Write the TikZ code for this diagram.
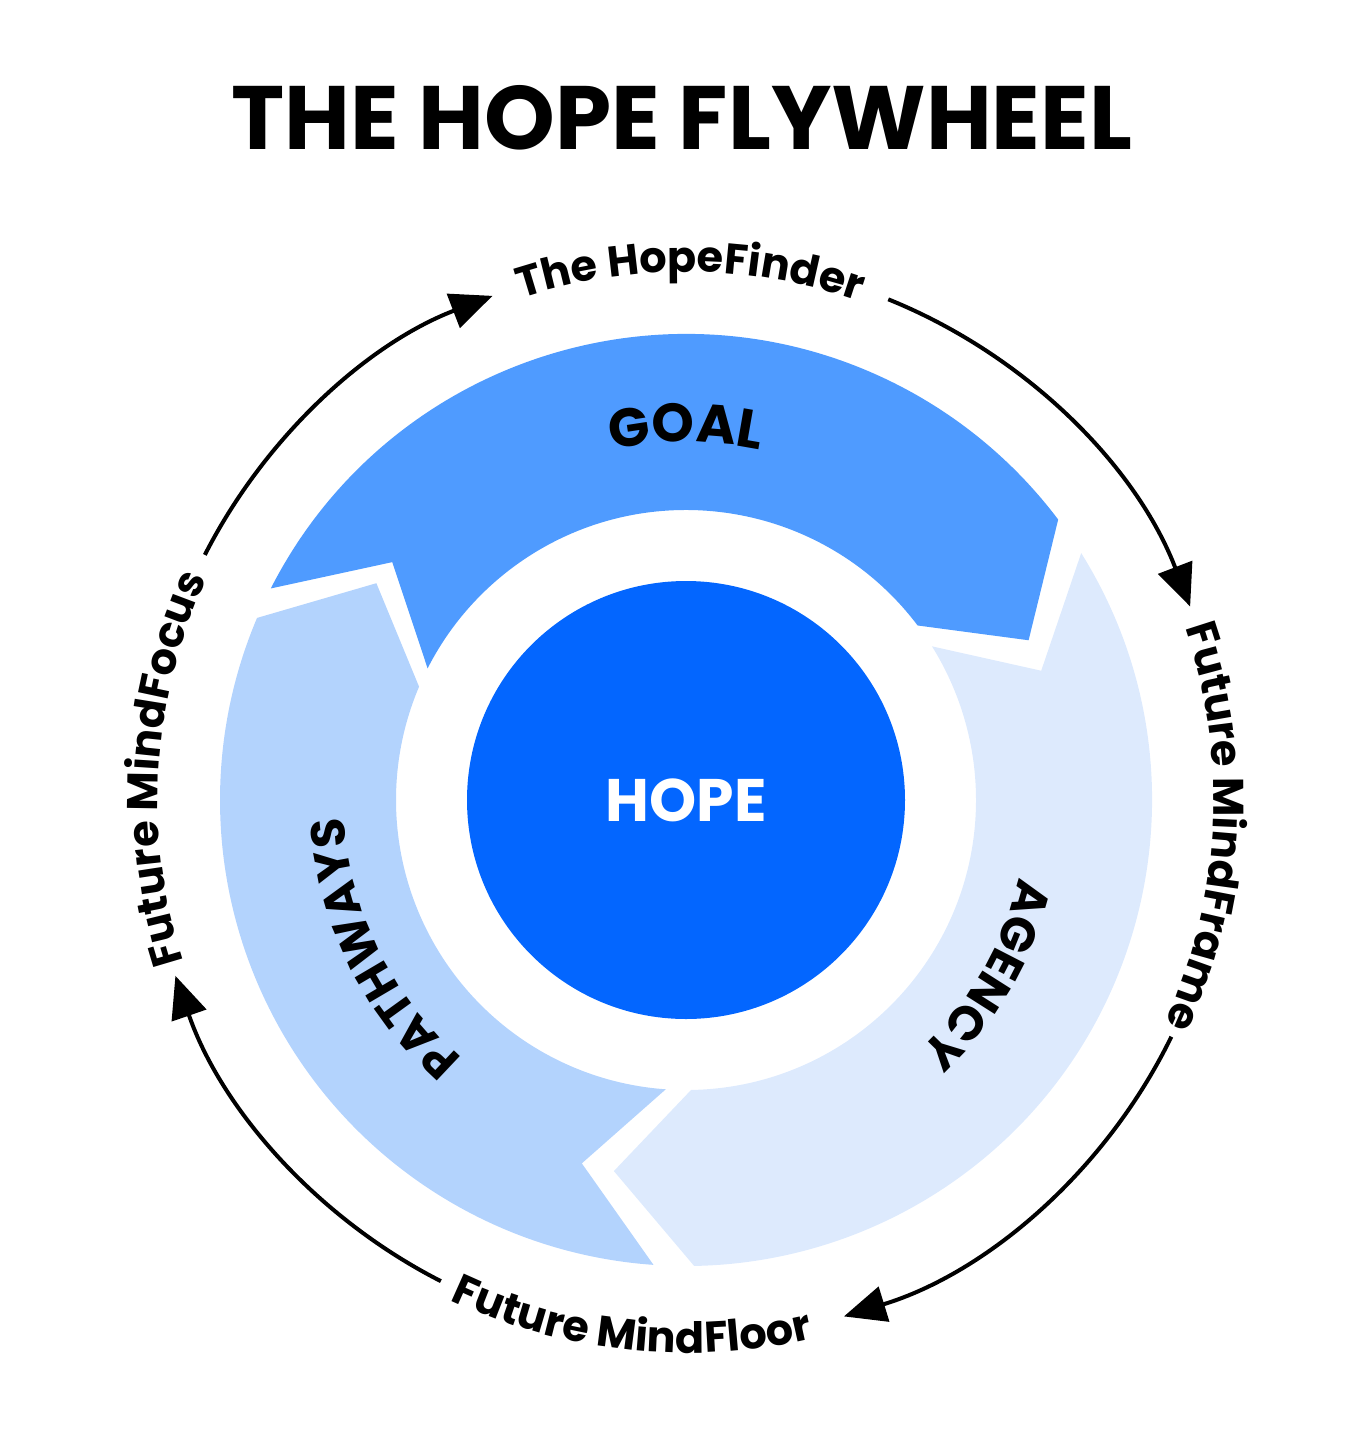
\documentclass[tikz,border=0pt]{standalone}
\usepackage{fontspec}
\setmainfont{Poppins}
\usetikzlibrary{arrows.meta,decorations.text}
\definecolor{goalc}{HTML}{4F9BFF}
\definecolor{agenc}{HTML}{DDEAFD}
\definecolor{pathc}{HTML}{B3D3FD}
\definecolor{hopec}{HTML}{0366FF}
\newcommand\flyarrow[3]{%
  \fill[#3] ([shift={(#1:466)}]c) arc[start angle=#1,end angle=#2,radius=466]
   -- ([shift={(#2-12:378)}]c) -- ([shift={(#2:290)}]c)
   arc[start angle=#2,end angle=#1,radius=290]
   -- ([shift={(#1-12:378)}]c) -- cycle;}
\tikzset{ring/.style={line width=4pt,-{Triangle[length=42pt,width=36pt]}},
 lab/.style={decorate,decoration={text along path,text align=center,text={#1}}}}
\begin{document}
\begin{tikzpicture}[x=1pt,y=1pt]
\useasboundingbox (0,0) rectangle (1364,-1440);
\coordinate (c) at (686,-800);
\node (title) at (682,-118) {\fontsize{90}{96}\selectfont\bfseries THE HOPE FLYWHEEL};
\flyarrow{153}{37}{goalc}
\flyarrow{32}{-89}{agenc}
\flyarrow{266}{157}{pathc}
\fill[hopec] (c) circle[radius=219];
\node[white] (hope) at (c) {\fontsize{60}{64}\selectfont\bfseries HOPE};
\path[lab={|\fontsize{54}{60}\selectfont\bfseries|GOAL}] ([shift={(104:358)}]c) arc[start angle=104,end angle=76,radius=358];
\path[lab={|\fontsize{48}{54}\selectfont\bfseries|PATHWAYS}] ([shift={(232:342)}]c) arc[start angle=232,end angle=180,radius=342];
\path[lab={|\fontsize{48}{54}\selectfont\bfseries|AGENCY}] ([shift={(-6:342)}]c) arc[start angle=-6,end angle=-54,radius=342];
% outer ring
\draw[ring] ([shift={(153:540)}]c) arc[start angle=153,end angle=111,radius=540];
\draw[ring] ([shift={(68:540)}]c) arc[start angle=68,end angle=21,radius=540];
\draw[ring] ([shift={(-26:540)}]c) arc[start angle=-26,end angle=-73,radius=540];
\draw[ring] ([shift={(-117:540)}]c) arc[start angle=-117,end angle=-161,radius=540];
\path[lab={|\fontsize{43}{48}\selectfont\bfseries|The HopeFinder}] ([shift={(112:528)}]c) arc[start angle=112,end angle=67,radius=528];
\path[lab={|\fontsize{43}{48}\selectfont\bfseries|Future MindFrame}] ([shift={(22:528)}]c) arc[start angle=22,end angle=-28,radius=528];
\path[lab={|\fontsize{43}{48}\selectfont\bfseries|Future MindFloor}] ([shift={(-121:553)}]c) arc[start angle=-121,end angle=-71,radius=553];
\path[lab={|\fontsize{43}{48}\selectfont\bfseries|Future MindFocus}] ([shift={(203:528)}]c) arc[start angle=203,end angle=150,radius=528];
\end{tikzpicture}
\end{document}
